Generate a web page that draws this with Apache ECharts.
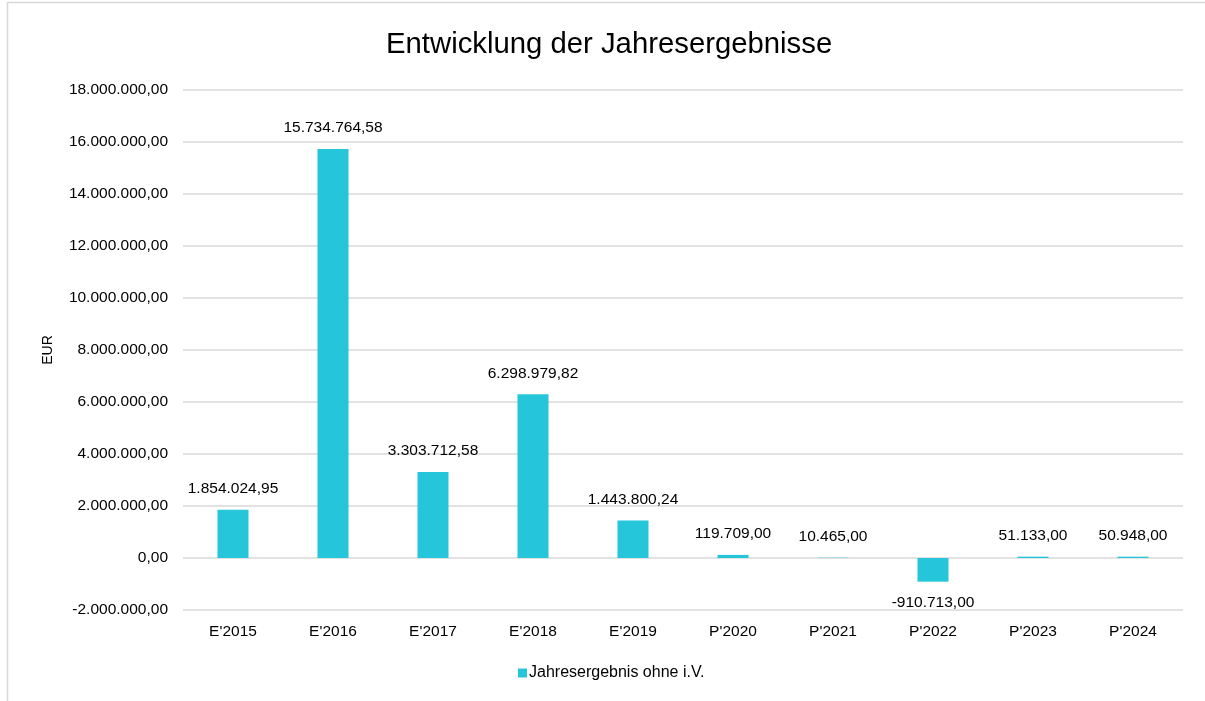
<!DOCTYPE html>
<html>
<head>
<meta charset="utf-8">
<script src="https://cdn.jsdelivr.net/npm/echarts@6/dist/echarts.min.js"></script>
<style>
    html, body { margin: 0; padding: 0; background: #fff; }
    #chart { width: 1205px; height: 701px; }
</style>
</head>
<body>
<div id="chart"></div>
<script>
const categories = ["E'2015", "E'2016", "E'2017", "E'2018", "E'2019", "P'2020", "P'2021", "P'2022", "P'2023", "P'2024"];
const values = [1854024.95, 15734764.58, 3303712.58, 6298979.82, 1443800.24, 119709.00, 10465.00, -910713.00, 51133.00, 50948.00];
const seriesName = 'Jahresergebnis ohne i.V.';

// deutsches Zahlenformat: 1.234.567,89
function fmt(v) {
    const neg = v < 0;
    const parts = Math.abs(v).toFixed(2).split('.');
    const int = parts[0].replace(/\B(?=(\d{3})+(?!\d))/g, '.');
    return (neg ? '-' : '') + int + ',' + parts[1];
}

const chart = echarts.init(document.getElementById('chart'));
const font = 'Liberation Sans, Arial, sans-serif';

chart.setOption({
    textStyle: { fontFamily: font, color: '#000' },
    graphic: [{
        type: 'rect',
        shape: { x: 7.5, y: 2.5, width: 1400, height: 900 },
        style: { fill: 'none', stroke: '#d9d9d9', lineWidth: 1.5 },
        silent: true
    }],
    title: {
        text: 'Entwicklung der Jahresergebnisse',
        left: 381,
        top: 25,
        textStyle: { fontFamily: font, fontSize: 29.3, fontWeight: 'normal', color: '#000' }
    },
    legend: {
        bottom: 15,
        left: 513,
        icon: 'rect',
        itemWidth: 9,
        itemHeight: 9,
        itemGap: 10,
        textStyle: { fontFamily: font, fontSize: 16, color: '#000', padding: [0, 0, 0, -3] }
    },
    grid: { left: 183, right: 22, top: 90, bottom: 91 },
    xAxis: {
        type: 'category',
        data: categories,
        axisLine: { show: false, onZero: false },
        axisTick: { show: false },
        axisLabel: { fontFamily: font, fontSize: 15.5, color: '#000', margin: 14 }
    },
    yAxis: {
        type: 'value',
        min: -2000000,
        max: 18000000,
        interval: 2000000,
        name: 'EUR',
        nameLocation: 'middle',
        nameGap: 128,
        nameTextStyle: { fontFamily: font, fontSize: 14, color: '#000' },
        axisLabel: { fontFamily: font, fontSize: 15.5, color: '#000', margin: 15, formatter: fmt },
        splitLine: { lineStyle: { color: '#d9d9d9', width: 1.5 } }
    },
    series: [{
        name: seriesName,
        type: 'bar',
        data: values.map(v => ({
            value: v,
            label: { position: v < 0 ? 'bottom' : 'top' }
        })),
        barWidth: '31%',
        itemStyle: { color: '#26C6DA' },
        label: {
            show: true,
            distance: 13,
            fontFamily: font,
            fontSize: 15.5,
            color: '#000',
            formatter: p => fmt(p.value)
        }
    }]
});
</script>
</body>
</html>
